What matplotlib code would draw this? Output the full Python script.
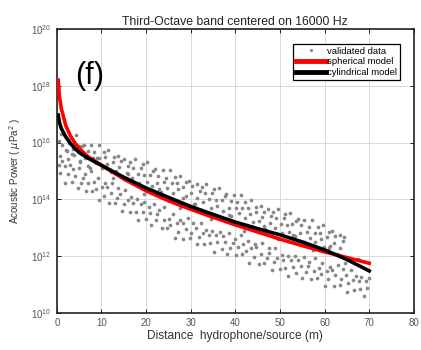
import numpy as np
import matplotlib
matplotlib.use("Agg")
import matplotlib.pyplot as plt
from matplotlib.lines import Line2D

plt.rcParams['font.family'] = ['Liberation Sans', 'DejaVu Sans']

# ---- data (log10 of acoustic power, uPa^2) ----
upper_x = [0.55, 0.7, 1.25, 1.78, 1.95, 2.5, 2.65, 3.27, 3.72, 3.92, 4.4, 4.95, 5.1, 5.65, 6.18, 6.35, 6.9, 7.05, 7.67, 8.12,
           8.32, 8.8, 9.35, 9.5, 10.05, 10.58, 10.75, 11.3, 11.45, 12.07, 12.52, 12.72, 13.2, 13.75, 13.9, 14.45, 14.98, 15.15, 15.7, 15.85,
           16.47, 16.92, 17.12, 17.6, 18.15, 18.3, 18.85, 19.38, 19.55, 20.1, 20.25, 20.87, 21.32, 21.52, 22.0, 22.55, 22.7, 23.25, 23.78, 23.95,
           24.5, 24.65, 25.27, 25.72, 25.92, 26.4, 26.95, 27.1, 27.65, 28.18, 28.35, 28.9, 29.05, 29.67, 30.12, 30.32, 30.8, 31.35, 31.5, 32.05,
           32.58, 32.75, 33.3, 33.45, 34.07, 34.52, 34.72, 35.2, 35.75, 35.9, 36.45, 36.98, 37.15, 37.7, 37.85, 38.47, 38.92, 39.12, 39.6, 40.15,
           40.3, 40.85, 41.38, 41.55, 42.1, 42.25, 42.87, 43.32, 43.52, 44.0, 44.55, 44.7, 45.25, 45.78, 45.95, 46.5, 46.65, 47.27, 47.72, 47.92,
           48.4, 48.95, 49.1, 49.65, 50.18, 50.35, 50.9, 51.05, 51.67, 52.12, 52.32, 52.8, 53.35, 53.5, 54.05, 54.58, 54.75, 55.3, 55.45, 56.07,
           56.52, 56.72, 57.2, 57.75, 57.9, 58.45, 58.98, 59.15, 59.7, 59.85, 60.47, 60.92, 61.12, 61.6, 62.15, 62.3, 62.85, 63.38, 63.55, 64.1,
           64.25]
upper_y = [16.07, 15.54, 15.90, 16.23, 15.73, 15.43, 16.00, 16.16, 15.79, 15.58, 16.26, 15.87, 15.36, 15.87, 15.93, 15.46, 15.71, 15.16, 15.91, 15.47,
           15.66, 15.28, 15.93, 15.46, 15.12, 15.66, 15.48, 15.23, 15.73, 14.95, 15.32, 15.49, 14.99, 15.53, 15.14, 15.34, 14.71, 15.42, 14.93, 15.19,
           15.31, 14.76, 15.11, 15.41, 14.88, 14.57, 15.11, 15.24, 14.86, 14.62, 15.30, 14.87, 14.47, 15.00, 15.06, 14.57, 14.84, 14.27, 15.02, 14.60,
           14.77, 14.40, 15.05, 14.57, 14.24, 14.79, 14.59, 14.36, 14.84, 14.06, 14.45, 14.60, 14.12, 14.66, 14.24, 14.46, 13.84, 14.53, 14.06, 14.30,
           14.43, 13.89, 14.22, 14.54, 14.01, 13.68, 14.24, 14.37, 13.97, 13.76, 14.41, 13.99, 13.60, 14.11, 14.19, 13.69, 13.95, 13.40, 14.15, 13.71,
           13.90, 13.51, 14.16, 13.69, 13.35, 13.92, 13.71, 13.47, 13.97, 13.19, 13.56, 13.73, 13.23, 13.77, 13.37, 13.57, 12.96, 13.65, 13.17, 13.42,
           13.56, 13.00, 13.35, 13.65, 13.12, 12.81, 13.35, 13.50, 13.10, 12.86, 13.53, 13.12, 12.71, 13.24, 13.30, 12.81, 13.08, 12.51, 13.28, 12.84,
           13.01, 12.64, 13.29, 12.80, 12.49, 13.03, 12.83, 12.60, 13.08, 12.32, 12.68, 12.84, 12.36, 12.90, 12.48, 12.70, 12.07, 12.76, 12.29, 12.53,
           12.69]

lower_x = [0.4, 0.6, 1.19, 1.72, 1.92, 2.4, 2.95, 3.34, 3.54, 4.13, 4.66, 4.86, 5.34, 5.89, 6.28, 6.48, 7.07, 7.6, 7.8, 8.28,
           8.83, 9.22, 9.42, 10.01, 10.54, 10.74, 11.22, 11.77, 12.16, 12.36, 12.95, 13.48, 13.68, 14.16, 14.71, 15.1, 15.3, 15.89, 16.42, 16.62,
           17.1, 17.65, 18.04, 18.24, 18.83, 19.36, 19.56, 20.04, 20.59, 20.98, 21.18, 21.77, 22.3, 22.5, 22.98, 23.53, 23.92, 24.12, 24.71, 25.24,
           25.44, 25.92, 26.47, 26.86, 27.06, 27.65, 28.18, 28.38, 28.86, 29.41, 29.8, 30.0, 30.59, 31.12, 31.32, 31.8, 32.35, 32.74, 32.94, 33.53,
           34.06, 34.26, 34.74, 35.29, 35.68, 35.88, 36.47, 37.0, 37.2, 37.68, 38.23, 38.62, 38.82, 39.41, 39.94, 40.14, 40.62, 41.17, 41.56, 41.76,
           42.35, 42.88, 43.08, 43.56, 44.11, 44.5, 44.7, 45.29, 45.82, 46.02, 46.5, 47.05, 47.44, 47.64, 48.23, 48.76, 48.96, 49.44, 49.99, 50.38,
           50.58, 51.17, 51.7, 51.9, 52.38, 52.93, 53.32, 53.52, 54.11, 54.64, 54.84, 55.32, 55.87, 56.26, 56.46, 57.05, 57.58, 57.78, 58.26, 58.81,
           59.2, 59.4, 59.99, 60.52, 60.72, 61.2, 61.75, 62.14, 62.34, 62.93, 63.46, 63.66, 64.14, 64.69, 65.08, 65.28, 65.87, 66.4, 66.6, 67.08,
           67.63, 68.02, 68.22, 68.81, 69.34, 69.54, 69.9]
lower_y = [15.22, 14.94, 15.34, 14.58, 15.16, 14.88, 15.22, 14.62, 15.07, 14.84, 14.39, 15.12, 14.57, 14.75, 14.89, 14.31, 14.57, 14.99, 14.29, 14.62,
           14.38, 14.76, 13.96, 14.45, 14.13, 14.58, 14.45, 13.87, 14.22, 14.59, 13.87, 14.04, 14.39, 14.20, 13.58, 13.85, 14.34, 13.96, 13.56, 14.08,
           13.88, 13.57, 14.00, 13.26, 13.82, 13.54, 13.92, 13.31, 13.74, 13.53, 13.11, 13.82, 13.27, 13.47, 13.61, 13.00, 13.27, 13.72, 12.99, 13.31,
           13.09, 13.47, 12.64, 13.15, 12.86, 13.29, 13.17, 12.62, 12.97, 13.33, 12.63, 12.83, 13.17, 12.99, 12.41, 12.68, 13.15, 12.80, 12.43, 12.93,
           12.74, 12.46, 12.90, 12.15, 12.73, 12.49, 12.85, 12.25, 12.71, 12.51, 12.08, 12.81, 12.29, 12.48, 12.62, 12.04, 12.33, 12.76, 12.06, 12.41,
           12.17, 12.55, 11.76, 12.28, 11.97, 12.41, 12.31, 11.74, 12.09, 12.47, 11.76, 11.95, 12.29, 12.12, 11.52, 11.79, 12.28, 11.93, 11.54, 12.05,
           11.88, 11.59, 12.02, 11.29, 11.87, 11.62, 11.99, 11.41, 11.86, 11.65, 11.24, 11.97, 11.44, 11.64, 11.80, 11.20, 11.49, 11.94, 11.24, 11.57,
           11.36, 11.76, 10.95, 11.47, 11.18, 11.62, 11.51, 10.94, 11.32, 11.68, 10.98, 11.18, 11.53, 11.34, 10.75, 11.04, 11.52, 11.16, 10.79, 11.31,
           11.12, 10.83, 11.28, 10.60, 11.11, 10.87, 11.24]

mid_x = [1.0, 2.2, 3.5, 5.2, 7.5, 9.0, 12.5, 16.0, 19.5, 23.0, 27.5, 31.0, 34.5, 38.5, 42.0, 46.5, 49.5, 53.0, 57.5, 61.0, 64.5, 67.5]
mid_y = [16.3, 15.7, 15.6, 15.3, 15.1, 15.45, 14.75, 14.9, 14.2, 14.35, 13.7, 13.85, 13.3, 13.45, 12.9, 13.05, 12.6, 12.75, 12.2, 12.3, 11.75, 11.9]

sph_x = [0.3, 0.6, 1.0, 1.5, 2.0, 3.0, 4.0, 5.0, 7.0, 10.0, 15.0, 20.0, 25.0, 30.0, 35.0, 40.0, 45.0, 50.0, 55.0, 60.0, 65.0, 70.0]
sph_y = [18.2, 17.6, 17.2, 16.9, 16.6, 16.25, 16.0, 15.8, 15.5, 15.2, 14.72, 14.3, 13.95, 13.65, 13.37, 13.1, 12.85, 12.6, 12.37, 12.15, 11.95, 11.75]
cyl_x = [0.3, 0.6, 1.0, 1.5, 2.0, 3.0, 4.0, 5.0, 7.0, 10.0, 15.0, 20.0, 25.0, 30.0, 35.0, 40.0, 45.0, 50.0, 55.0, 60.0, 65.0, 70.0]
cyl_y = [16.97, 16.7, 16.5, 16.35, 16.2, 15.98, 15.8, 15.65, 15.45, 15.2, 14.78, 14.4, 14.07, 13.75, 13.47, 13.2, 12.97, 12.75, 12.5, 12.22, 11.88, 11.48]

fig = plt.figure(figsize=(4.21, 3.5), dpi=100)
ax = fig.add_axes([0.135, 0.106, 0.848, 0.811])

for xs, ys in [(upper_x, upper_y), (lower_x, lower_y), (mid_x, mid_y)]:
    ax.scatter(xs, np.power(10.0, ys), s=7, color='#878787', linewidths=0, zorder=2)
ax.plot(sph_x, np.power(10.0, sph_y), color='#ff0000', lw=2.6, zorder=3)
ax.plot(cyl_x, np.power(10.0, cyl_y), color='black', lw=2.6, zorder=4)

ax.set_yscale('log')
ax.set_xlim(0, 80)
ax.set_ylim(1e10, 1e20)
ax.set_xticks([0, 10, 20, 30, 40, 50, 60, 70, 80])
ax.set_yticks([1e10, 1e12, 1e14, 1e16, 1e18, 1e20])
ax.yaxis.set_minor_locator(matplotlib.ticker.NullLocator())
ax.tick_params(direction='in', top=True, right=True, labelsize=7, labelcolor='#555555',
               length=3, width=0.6, pad=4)
ax.grid(True, color='#d9d9d9', lw=0.7)
ax.set_axisbelow(True)
for sp in ax.spines.values():
    sp.set_linewidth(1.2)
    sp.set_color('#222222')

ax.set_title('Third-Octave band centered on 16000 Hz', fontsize=8.8, color='#222222', pad=3)
ax.set_xlabel('Distance  hydrophone/source (m)', fontsize=8.6, color='#333333')
ax.xaxis.set_label_coords(0.5, -0.062)
ax.set_ylabel('Acoustic Power ( $\\mu$Pa$^2$ )', fontsize=7, color='#333333')
ax.yaxis.set_label_coords(-0.095, 0.5)

ax.text(0.05, 0.834, '(f)', transform=ax.transAxes, fontsize=22, color='black',
        ha='left', va='center')

handles = [Line2D([], [], ls='none', marker='.', ms=2.5, color='#858585'),
           Line2D([], [], color='#ff0000', lw=3.5),
           Line2D([], [], color='black', lw=3.5)]
leg = ax.legend(handles, ['validated data', 'spherical model', 'cylindrical model'],
                loc='upper right', bbox_to_anchor=(0.975, 0.965), fontsize=6.8,
                frameon=True, fancybox=False, edgecolor='black', framealpha=1,
                handlelength=3.2, handletextpad=0.1, borderpad=0.3, labelspacing=0.2)
leg.get_frame().set_linewidth(0.9)

fig.savefig('out.png', dpi=100)
